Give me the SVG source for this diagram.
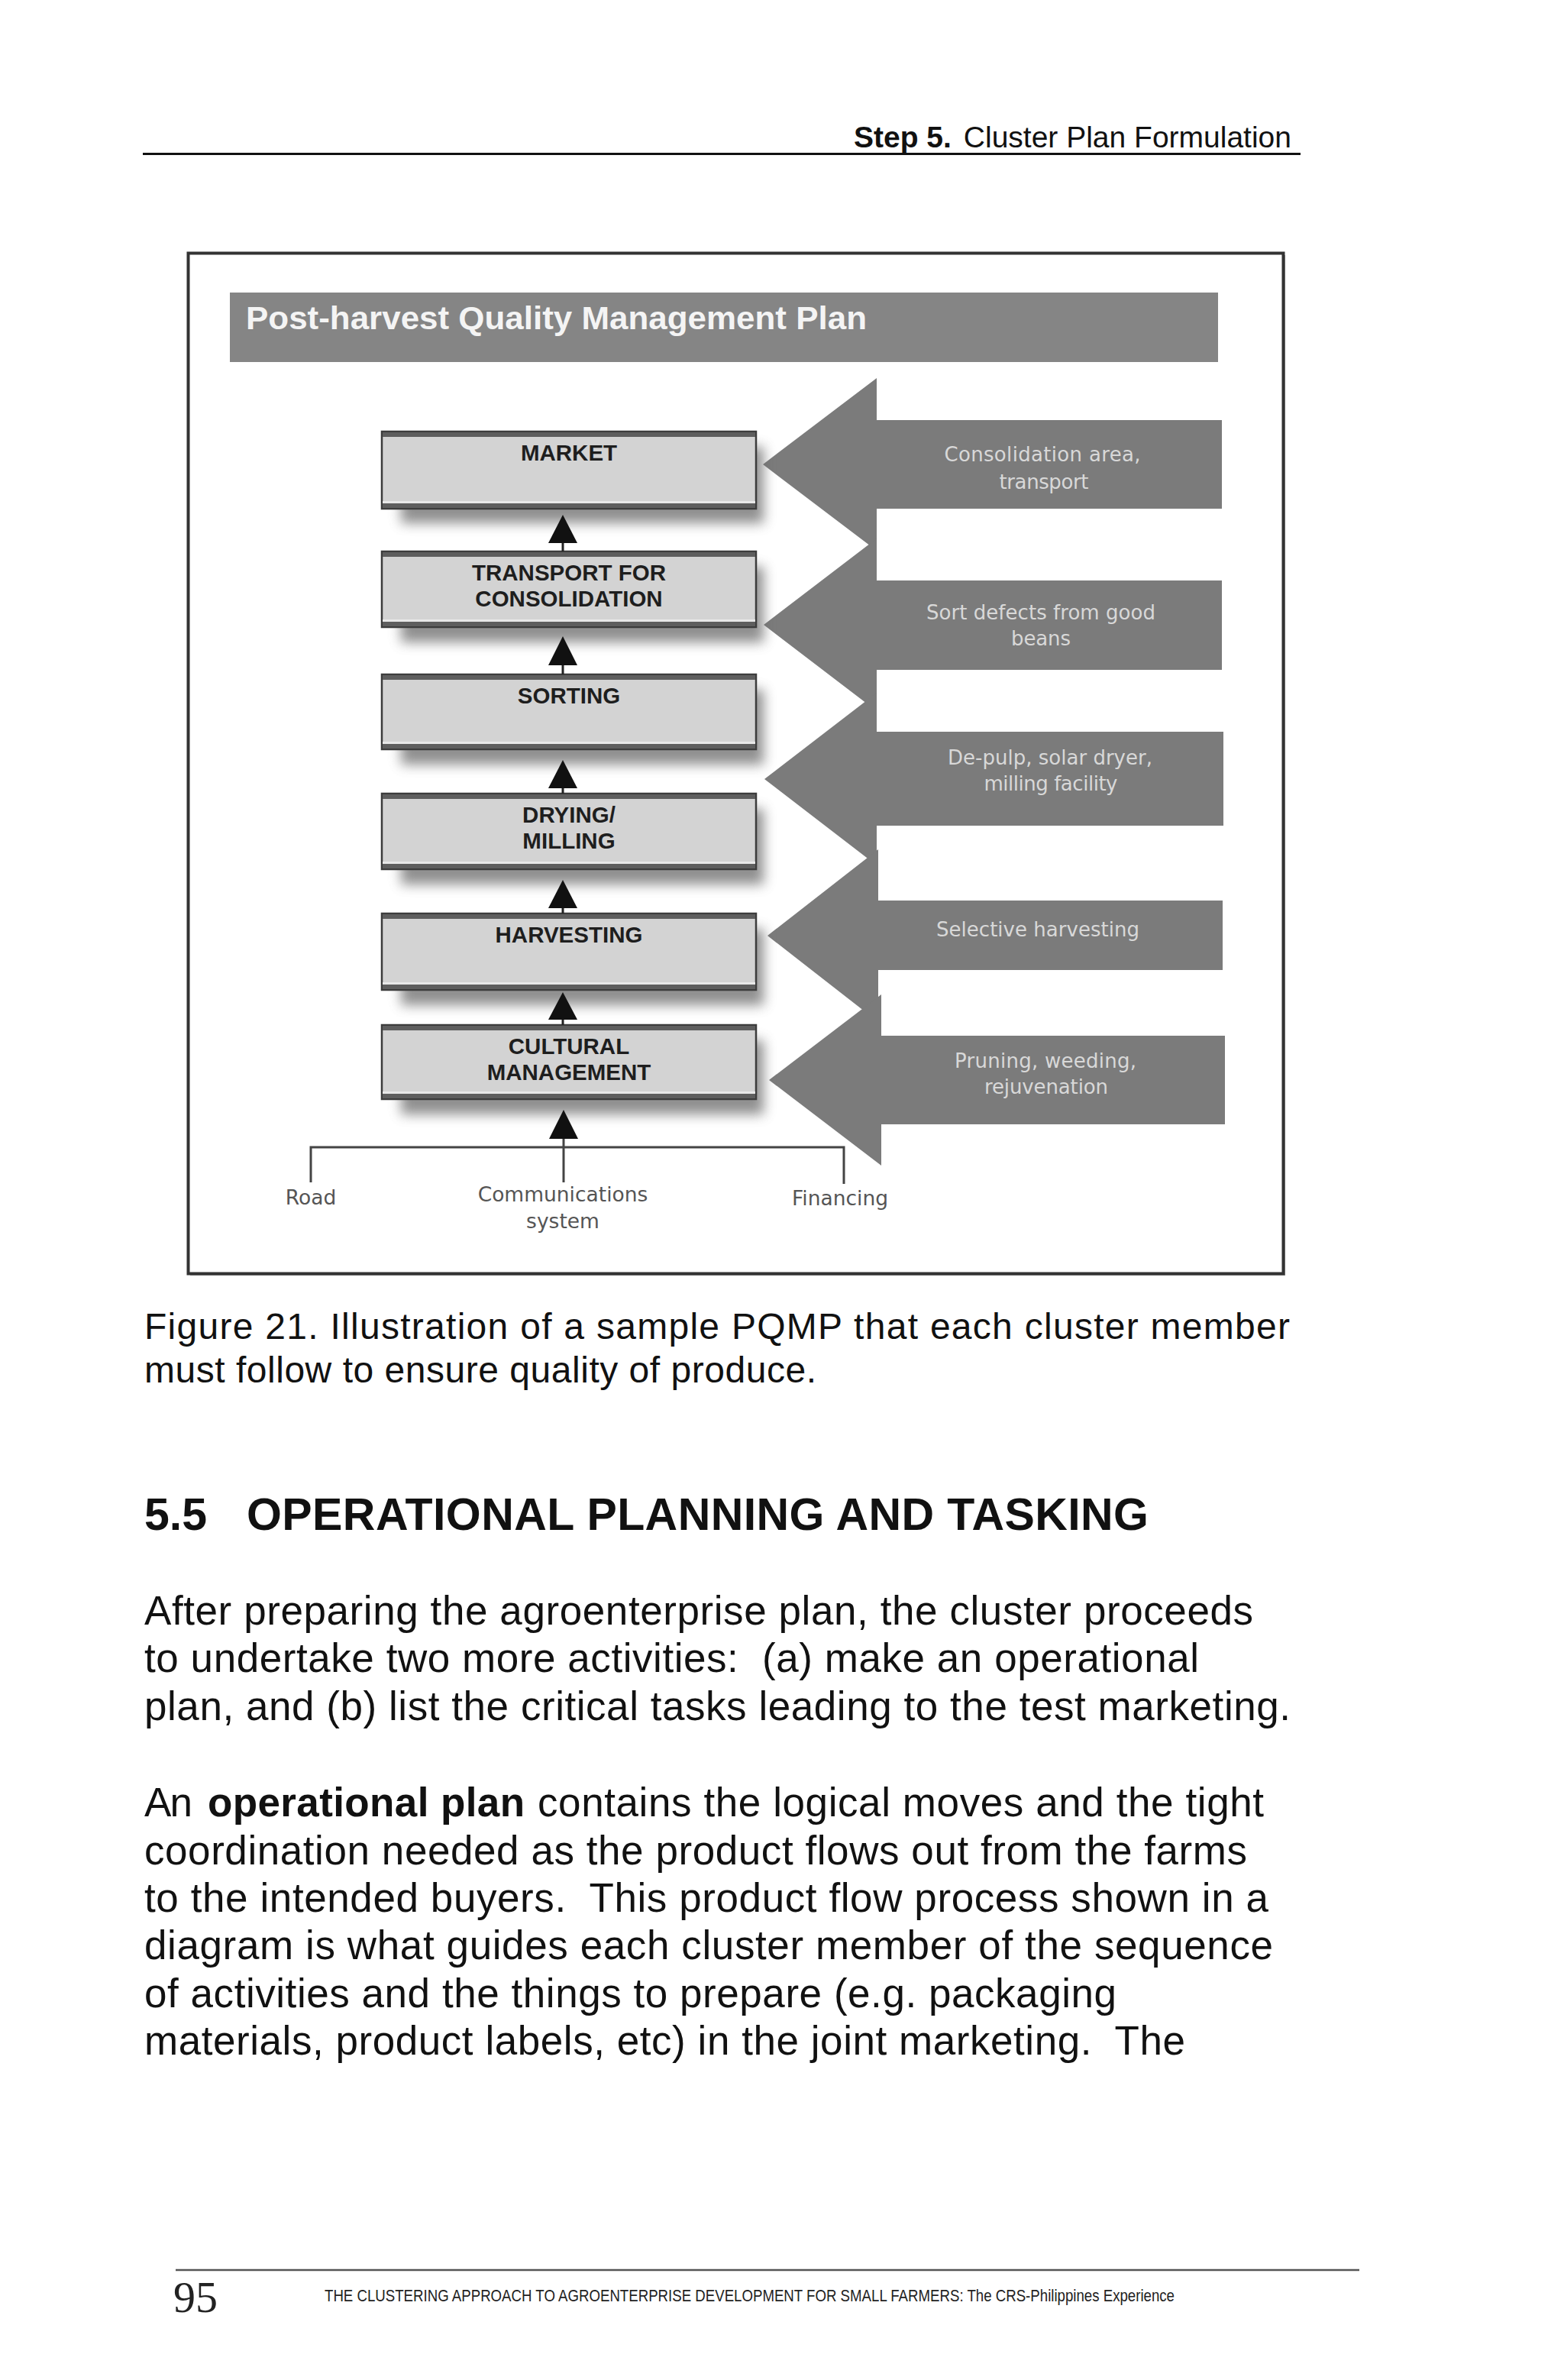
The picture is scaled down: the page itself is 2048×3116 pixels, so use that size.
<svg xmlns="http://www.w3.org/2000/svg" width="2048" height="3116" viewBox="0 0 2048 3116">
<style>
.hdr{font-family:"Liberation Sans",Arial,sans-serif;font-size:39px;fill:#111}
.title{font-family:"Liberation Sans",Arial,sans-serif;font-weight:bold;font-size:43px;fill:#f4f4f4}
.box{fill:#d3d3d3;stroke:#3c3c3c;stroke-width:2.5}
.band{fill:#5e5e5e}
.hl{fill:#e8e8e8}
.lbl{font-family:"Liberation Sans",Arial,sans-serif;font-weight:bold;font-size:29.5px;fill:#1e1e1e;text-anchor:middle}
.big{fill:#7b7b7b}
.atx{font-family:"DejaVu Sans","Liberation Sans",sans-serif;font-size:26px;fill:#d8d8d8;text-anchor:middle}
.btx{font-family:"DejaVu Sans","Liberation Sans",sans-serif;font-size:26.5px;fill:#555;text-anchor:middle}
.cap{font-family:"Liberation Sans",Arial,sans-serif;font-size:48px;fill:#111;white-space:pre}
.h2{font-family:"Liberation Sans",Arial,sans-serif;font-weight:bold;font-size:59px;fill:#111}
.body{font-family:"Liberation Sans",Arial,sans-serif;font-size:53px;fill:#111;white-space:pre}
.bold{font-weight:bold}
.ln{stroke:#222;stroke-width:3;fill:none}
.brk{stroke:#444;stroke-width:3;fill:none}
.tri{fill:#111}
.shadow{fill:#6a6a6a;opacity:0.75}
</style>
<defs>
<filter id="blur" x="-20%" y="-60%" width="140%" height="220%"><feGaussianBlur stdDeviation="8"/></filter>
</defs>
<rect x="0" y="0" width="2048" height="3116" fill="#ffffff"/>

<g id="page-header">
<text class="hdr" x="1118" y="193" font-weight="bold" font-size="40">Step 5.</text>
<text class="hdr" x="1691" y="193" text-anchor="end">Cluster Plan Formulation</text>
<line x1="187" y1="201.5" x2="1703" y2="201.5" stroke="#111" stroke-width="3"/>
</g>

<g id="figure-frame">
<rect x="249" y="334" width="1434" height="1336" fill="#9a9a9a"/>
<rect x="246.5" y="331.5" width="1434" height="1336" fill="#ffffff" stroke="#333" stroke-width="4"/>
</g>

<g id="title-bar">
<rect x="301" y="383" width="1294" height="91" fill="#858585"/>
<text class="title" x="322" y="431" textLength="813" lengthAdjust="spacingAndGlyphs">Post-harvest Quality Management Plan</text>
</g>

<g id="input-arrows">
<g id="arrow-consolidation">
<polygon class="big" points="1600,550 1148,550 1148,495 999,608 1148,721 1148,666 1600,666"/>
<text class="atx" x="1365" y="604" textLength="257">Consolidation area,</text>
<text class="atx" x="1367" y="640" textLength="117">transport</text>
</g>
<g id="arrow-sort">
<polygon class="big" points="1600,760 1148,760 1148,705 1000,818 1148,931 1148,877 1600,877"/>
<text class="atx" x="1363" y="811" textLength="300">Sort defects from good</text>
<text class="atx" x="1363" y="845" textLength="78">beans</text>
</g>
<g id="arrow-depulp">
<polygon class="big" points="1602,958 1148,958 1148,907 1001,1020 1148,1133 1148,1081 1602,1081"/>
<text class="atx" x="1375" y="1001" textLength="268">De-pulp, solar dryer,</text>
<text class="atx" x="1376" y="1035" textLength="175">milling facility</text>
</g>
<g id="arrow-selective">
<polygon class="big" points="1601,1179 1150,1179 1150,1112 1005,1225 1150,1338 1150,1270 1601,1270"/>
<text class="atx" x="1359" y="1226" textLength="266">Selective harvesting</text>
</g>
<g id="arrow-pruning">
<polygon class="big" points="1604,1356 1154,1356 1154,1302 1007,1414 1154,1526 1154,1472 1604,1472"/>
<text class="atx" x="1369" y="1398" textLength="238">Pruning, weeding,</text>
<text class="atx" x="1370" y="1432" textLength="162">rejuvenation</text>
</g>
</g>

<g id="node-market">
<rect class="shadow" x="525" y="585" width="475" height="100" filter="url(#blur)"/>
<rect class="box" x="500" y="565" width="490" height="101"/>
<rect class="band" x="501" y="566" width="488" height="6"/>
<rect class="hl" x="501" y="656" width="488" height="3"/>
<rect class="band" x="501" y="659" width="488" height="6"/>
<text class="lbl" x="745" y="603">MARKET</text>
</g>

<g id="node-transport">
<rect class="shadow" x="525" y="742" width="475" height="99" filter="url(#blur)"/>
<rect class="box" x="500" y="722" width="490" height="99"/>
<rect class="band" x="501" y="723" width="488" height="6"/>
<rect class="hl" x="501" y="811" width="488" height="3"/>
<rect class="band" x="501" y="814" width="488" height="6"/>
<text class="lbl" x="745" y="760">TRANSPORT FOR</text>
<text class="lbl" x="745" y="794">CONSOLIDATION</text>
</g>

<g id="node-sorting">
<rect class="shadow" x="525" y="903" width="475" height="98" filter="url(#blur)"/>
<rect class="box" x="500" y="883" width="490" height="98"/>
<rect class="band" x="501" y="884" width="488" height="6"/>
<rect class="hl" x="501" y="971" width="488" height="3"/>
<rect class="band" x="501" y="974" width="488" height="6"/>
<text class="lbl" x="745" y="921">SORTING</text>
</g>

<g id="node-drying">
<rect class="shadow" x="525" y="1059" width="475" height="99" filter="url(#blur)"/>
<rect class="box" x="500" y="1039" width="490" height="99"/>
<rect class="band" x="501" y="1040" width="488" height="6"/>
<rect class="hl" x="501" y="1128" width="488" height="3"/>
<rect class="band" x="501" y="1131" width="488" height="6"/>
<text class="lbl" x="745" y="1077">DRYING/</text>
<text class="lbl" x="745" y="1111">MILLING</text>
</g>

<g id="node-harvesting">
<rect class="shadow" x="525" y="1216" width="475" height="100" filter="url(#blur)"/>
<rect class="box" x="500" y="1196" width="490" height="100"/>
<rect class="band" x="501" y="1197" width="488" height="6"/>
<rect class="hl" x="501" y="1286" width="488" height="3"/>
<rect class="band" x="501" y="1289" width="488" height="6"/>
<text class="lbl" x="745" y="1234">HARVESTING</text>
</g>

<g id="node-cultural">
<rect class="shadow" x="525" y="1362" width="475" height="97" filter="url(#blur)"/>
<rect class="box" x="500" y="1342" width="490" height="97"/>
<rect class="band" x="501" y="1343" width="488" height="6"/>
<rect class="hl" x="501" y="1429" width="488" height="3"/>
<rect class="band" x="501" y="1432" width="488" height="6"/>
<text class="lbl" x="745" y="1380">CULTURAL</text>
<text class="lbl" x="745" y="1414">MANAGEMENT</text>
</g>

<g id="node-road"><text class="btx" x="407" y="1577">Road</text></g>
<g id="node-communications">
<text class="btx" x="737" y="1573">Communications</text>
<text class="btx" x="737" y="1608">system</text>
</g>
<g id="node-financing"><text class="btx" x="1100" y="1578">Financing</text></g>

<g id="connectors">
<line class="ln" x1="737" y1="708" x2="737" y2="722"/>
<polygon class="tri" points="737,674 718,711 756,711"/>
<line class="ln" x1="737" y1="868" x2="737" y2="883"/>
<polygon class="tri" points="737,833 718,871 756,871"/>
<line class="ln" x1="737" y1="1029" x2="737" y2="1039"/>
<polygon class="tri" points="737,995 718,1032 756,1032"/>
<line class="ln" x1="737" y1="1186" x2="737" y2="1196"/>
<polygon class="tri" points="737,1152 718,1189 756,1189"/>
<line class="ln" x1="737" y1="1332" x2="737" y2="1342"/>
<polygon class="tri" points="737,1299 718,1335 756,1335"/>
<line class="brk" x1="738" y1="1548" x2="738" y2="1488"/>
<polygon class="tri" points="738,1453 719,1491 757,1491"/>
<polyline class="brk" points="407,1548 407,1502 1105,1502 1105,1550"/>
</g>

<g id="caption">
<text class="cap" x="189" y="1753" textLength="1500" lengthAdjust="spacing">Figure 21. Illustration of a sample PQMP that each cluster member</text>
<text class="cap" x="189" y="1810" textLength="880" lengthAdjust="spacing">must follow to ensure quality of produce.</text>
</g>

<g id="section-heading">
<text class="h2" x="189" y="2003">5.5</text>
<text class="h2" x="323" y="2003" textLength="1181" lengthAdjust="spacing">OPERATIONAL PLANNING AND TASKING</text>
</g>

<g id="paragraph-1">
<text class="body" x="189" y="2127" textLength="1452" lengthAdjust="spacing">After preparing the agroenterprise plan, the cluster proceeds</text>
<text class="body" x="189" y="2189" textLength="1381" lengthAdjust="spacing">to undertake two more activities:  (a) make an operational</text>
<text class="body" x="189" y="2252" textLength="1501" lengthAdjust="spacing">plan, and (b) list the critical tasks leading to the test marketing.</text>
</g>

<g id="paragraph-2">
<text class="body" x="189" y="2378" textLength="63" lengthAdjust="spacing">An</text>
<text class="body bold" x="272" y="2378" textLength="415" lengthAdjust="spacing">operational plan</text>
<text class="body" x="704" y="2378" textLength="951" lengthAdjust="spacing">contains the logical moves and the tight</text>
<text class="body" x="189" y="2441" textLength="1444" lengthAdjust="spacing">coordination needed as the product flows out from the farms</text>
<text class="body" x="189" y="2503" textLength="1472" lengthAdjust="spacing">to the intended buyers.  This product flow process shown in a</text>
<text class="body" x="189" y="2565" textLength="1478" lengthAdjust="spacing">diagram is what guides each cluster member of the sequence</text>
<text class="body" x="189" y="2628" textLength="1273" lengthAdjust="spacing">of activities and the things to prepare (e.g. packaging</text>
<text class="body" x="189" y="2690" textLength="1363" lengthAdjust="spacing">materials, product labels, etc) in the joint marketing.  The</text>
</g>

<g id="page-footer">
<line x1="230" y1="2972" x2="1780" y2="2972" stroke="#555" stroke-width="2.5"/>
<text x="227" y="3027" font-family="'Liberation Serif','Times New Roman',serif" font-size="58" fill="#222">95</text>
<text x="425" y="3013" font-family="'Liberation Sans',Arial,sans-serif" font-size="22" fill="#222" textLength="1113" lengthAdjust="spacingAndGlyphs">THE CLUSTERING APPROACH TO AGROENTERPRISE DEVELOPMENT FOR SMALL FARMERS: The CRS-Philippines Experience</text>
</g>
</svg>
